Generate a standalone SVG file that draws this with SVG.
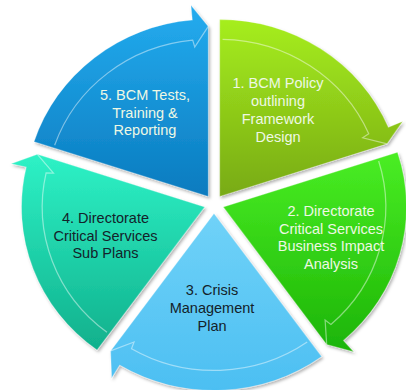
<svg xmlns="http://www.w3.org/2000/svg" width="406" height="390" viewBox="0 0 406 390">
<style>
.lbl{font-family:"Liberation Sans",Arial,sans-serif;font-size:14.5px;text-anchor:middle}
.lt{fill:#eef8e4}
.dk{fill:#14222a}
.hl{fill:none;stroke:#ffffff;stroke-opacity:0.45;stroke-width:1.2}
.seg{stroke:#ffffff;stroke-opacity:0.3;stroke-width:1;filter:url(#sh)}
</style>
<defs>
<filter id="sh" x="-10%" y="-10%" width="125%" height="125%">
<feDropShadow dx="1.5" dy="2" stdDeviation="1.5" flood-color="#000" flood-opacity="0.3"/>
</filter>
<linearGradient id="g1" x1="0" y1="0" x2="0" y2="1"><stop offset="0" stop-color="#a6ee1e"/><stop offset="1" stop-color="#78aa14"/></linearGradient>
<linearGradient id="g2" x1="0" y1="0" x2="0" y2="1"><stop offset="0" stop-color="#4aee24"/><stop offset="1" stop-color="#1cb406"/></linearGradient>
<linearGradient id="g3" x1="0" y1="0" x2="0" y2="1"><stop offset="0" stop-color="#70d2f8"/><stop offset="1" stop-color="#4cbff2"/></linearGradient>
<linearGradient id="g4" x1="0" y1="0" x2="0" y2="1"><stop offset="0" stop-color="#2ef2c6"/><stop offset="1" stop-color="#10b08c"/></linearGradient>
<linearGradient id="g5" x1="0" y1="0" x2="0" y2="1"><stop offset="0" stop-color="#24acef"/><stop offset="1" stop-color="#0a7bbf"/></linearGradient>
</defs>
<g transform="matrix(1.035,0,0,1,-7.49,0)">
<g id="seg1">
<path class="seg" fill="url(#g1)" d="M219.53,196.40 L219.53,19.40 A177,177 0 0 1 382.46,127.25 L396.27,121.39 L381.22,143.87 Z"/>
<path class="hl" d="M222.27,39.42 A157,157 0 0 1 363.51,133.80 L357.61,137.79 L381.22,143.87"/>
</g>
<g id="seg2">
<path class="seg" fill="url(#g2)" d="M222.94,206.90 L391.28,152.21 A177,177 0 0 1 339.07,340.48 L348.91,351.80 L322.87,344.43 Z"/>
<path class="hl" d="M373.08,160.99 A157,157 0 0 1 326.97,324.49 L321.36,320.11 L322.87,344.43"/>
</g>
<g id="seg3">
<path class="seg" fill="url(#g3)" d="M214,213.4 L318.04,356.59 A177,177 0 0 1 122.84,365.12 L115.12,377.98 L114.07,350.93 Z"/>
<path class="hl" d="M304.06,342.01 A157,157 0 0 1 134.32,348.67 L136.75,341.98 L114.07,350.93"/>
</g>
<g id="seg4">
<path class="seg" fill="url(#g4)" d="M205.06,206.90 L101.02,350.09 A177,177 0 0 1 32.59,167.07 L17.98,163.70 L43.37,154.37 Z"/>
<path class="hl" d="M110.58,332.28 A157,157 0 0 1 51.78,172.93 L58.90,173.15 L43.37,154.37"/>
</g>
<g id="seg5">
<path class="seg" fill="url(#g5)" d="M208.47,196.40 L40.13,141.71 A177,177 0 0 1 193.04,20.07 L191.73,5.13 L208.47,26.40 Z"/>
<path class="hl" d="M60.03,145.28 A157,157 0 0 1 193.43,40.12 L195.39,46.97 L208.47,26.40"/>
</g>
</g>
<g id="connectors"/>
<g id="labels">
<text class="lbl lt" x="278" y="87.5">1. BCM Policy</text>
<text class="lbl lt" x="278" y="105.5">outlining</text>
<text class="lbl lt" x="278" y="123.5">Framework</text>
<text class="lbl lt" x="278" y="141.5">Design</text>
<text class="lbl lt" x="331" y="215.5">2. Directorate</text>
<text class="lbl lt" x="331" y="233.5">Critical Services</text>
<text class="lbl lt" x="331" y="251">Business Impact</text>
<text class="lbl lt" x="331" y="269">Analysis</text>
<text class="lbl dk" x="212" y="295">3. Crisis</text>
<text class="lbl dk" x="212" y="312.7">Management</text>
<text class="lbl dk" x="212" y="330.7">Plan</text>
<text class="lbl dk" x="105.5" y="223.3">4. Directorate</text>
<text class="lbl dk" x="105.5" y="241">Critical Services</text>
<text class="lbl dk" x="105.5" y="258.3">Sub Plans</text>
<text class="lbl lt" x="145" y="99.5">5. BCM Tests,</text>
<text class="lbl lt" x="145" y="117.5">Training &amp;</text>
<text class="lbl lt" x="145" y="135">Reporting</text>
</g>
</svg>
